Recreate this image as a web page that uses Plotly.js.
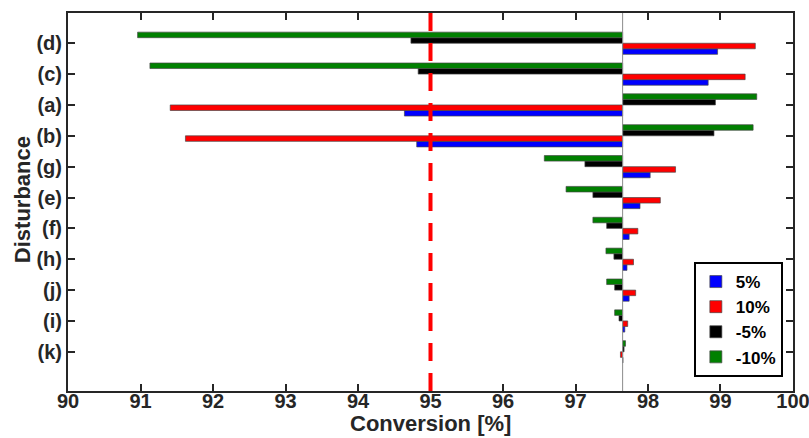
<!DOCTYPE html>
<html>
<head>
<meta charset="utf-8">
<script src="https://cdn.plot.ly/plotly-3.0.1.min.js"></script>
<style>html,body{margin:0;padding:0;background:#fff;}#chart{width:809px;height:438px;}</style>
</head>
<body>
<div id="chart"></div>
<script>
// Disturbance categories, listed top to bottom
const categories = ['(d)','(c)','(a)','(b)','(g)','(e)','(f)','(h)','(j)','(i)','(k)'];
// Conversion [%] reached for each disturbance magnitude
const plus5   = [98.96, 98.83, 94.64, 94.81, 98.03, 97.89, 97.74, 97.71, 97.74, 97.68, 97.655];
const plus10  = [99.48, 99.34, 91.41, 91.62, 98.38, 98.17, 97.86, 97.80, 97.83, 97.72, 97.62];
const minus5  = [94.73, 94.83, 98.93, 98.91, 97.13, 97.24, 97.43, 97.53, 97.54, 97.60, 97.67];
const minus10 = [90.96, 91.13, 99.50, 99.45, 96.57, 96.87, 97.24, 97.42, 97.43, 97.54, 97.69];
const seriesNames = ['5%', '10%', '-5%', '-10%'];
const BASE = 97.65;       // nominal conversion (bar origin)
const THRESHOLD = 95;     // red dashed limit
const xTicks = [90, 91, 92, 93, 94, 95, 96, 97, 98, 99, 100];

const FONT = '"Liberation Sans", Arial, Helvetica, sans-serif';
const colors = ['#0000ff', '#ff0000', '#000000', '#008000'];
const series = [plus5, plus10, minus5, minus10];

const traces = series.map((vals, i) => ({
  type: 'bar',
  orientation: 'h',
  name: seriesNames[i],
  y: categories,
  base: BASE,
  x: vals.map(v => v - BASE),
  marker: {color: colors[i], line: {color: 'rgba(70,70,70,0.85)', width: 0.8}},
  hoverinfo: 'skip'
}));

const axisLine = '#262626';
const titleFont = {family: FONT, size: 22, color: '#262626', weight: 'bold'};
const layout = {
  width: 809, height: 438,
  margin: {l: 68, r: 16, t: 13, b: 47},
  paper_bgcolor: '#ffffff', plot_bgcolor: '#ffffff',
  barmode: 'group', bargap: 0.28, bargroupgap: 0,
  font: {family: FONT, size: 20, color: '#262626', weight: 'bold'},
  showlegend: true,
  legend: {
    x: 0.986, xanchor: 'right', y: 0.037, yanchor: 'bottom',
    bgcolor: '#ffffff', bordercolor: '#000000', borderwidth: 2,
    font: {family: FONT, size: 17, color: '#000000', weight: 'bold'},
    traceorder: 'normal', tracegroupgap: 0
  },
  xaxis: {
    range: [89.9999, 100.0001], tickmode: 'array', tickvals: xTicks, ticktext: xTicks.map(String),
    ticks: 'inside', ticklen: 7, tickwidth: 2, tickcolor: axisLine,
    showline: true, linecolor: axisLine, linewidth: 2, mirror: 'ticks',
    showgrid: false, zeroline: false, ticklabelstandoff: -9, ticklabeloverflow: 'allow',
    tickfont: {family: FONT, size: 20, color: '#262626', weight: 'bold'}
  },
  yaxis: {
    type: 'category', categoryorder: 'array', categoryarray: categories.slice().reverse(),
    range: [-1.27, 10.98],
    ticks: 'inside', ticklen: 7, tickwidth: 2, tickcolor: axisLine,
    showline: true, linecolor: axisLine, linewidth: 2, mirror: 'ticks',
    showgrid: false, zeroline: false,
    tickfont: {family: FONT, size: 20, color: '#262626', weight: 'bold'}
  },
  annotations: [
    {text: 'Conversion [%]', xref: 'paper', yref: 'paper', x: 0.5, y: -0.1217,
     xanchor: 'center', yanchor: 'bottom', showarrow: false, font: titleFont, borderpad: 0},
    {text: 'Disturbance', xref: 'paper', yref: 'paper', x: -0.0634, y: 0.505, textangle: -90,
     xanchor: 'center', yanchor: 'middle', showarrow: false, font: titleFont}
  ],
  shapes: [
    {type: 'line', xref: 'x', yref: 'paper', x0: BASE, x1: BASE, y0: 0, y1: 1,
     line: {color: '#8c8c8c', width: 1}, layer: 'above'},
    {type: 'line', xref: 'x', yref: 'paper', x0: THRESHOLD, x1: THRESHOLD, y0: 0, y1: 1,
     line: {color: '#ff0000', width: 4, dash: '18px,12px'}, layer: 'above'}
  ]
};

Plotly.newPlot('chart', traces, layout, {staticPlot: true, displayModeBar: false});
</script>
</body>
</html>
